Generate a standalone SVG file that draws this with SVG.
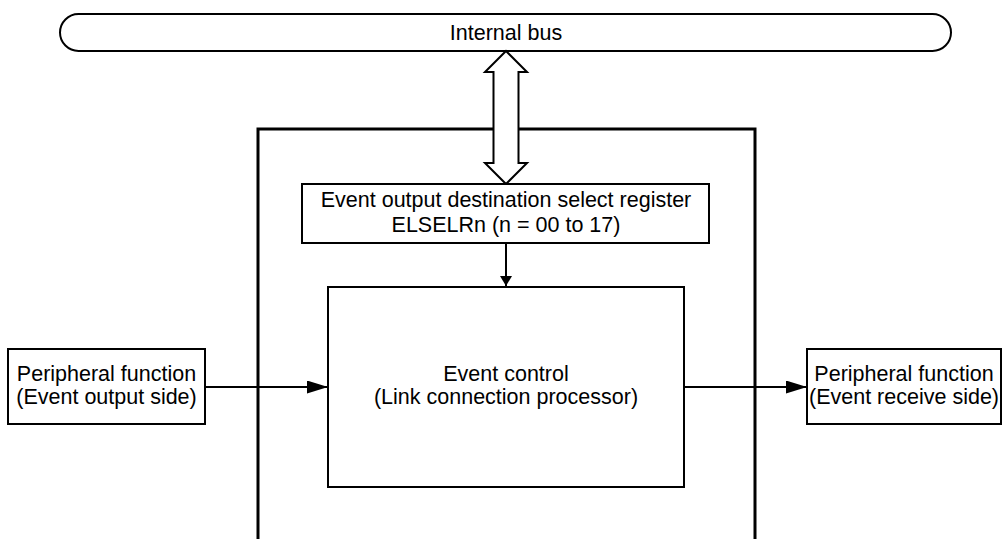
<svg xmlns="http://www.w3.org/2000/svg" width="1004" height="539" viewBox="0 0 1004 539">
<style>
text{font-family:"Liberation Sans",Arial,sans-serif;font-size:21.5px;fill:#000;text-anchor:middle}
.box{fill:#fff;stroke:#000;stroke-width:2}
.line{fill:none;stroke:#000;stroke-width:2}
</style>
<defs>
<marker id="ah" markerWidth="10" markerHeight="12" refX="10" refY="6" orient="auto" markerUnits="userSpaceOnUse" viewBox="0 0 10 12">
<path d="M0,0 L10,6 L0,12 z" fill="#000"/>
</marker>
<marker id="ahl" markerWidth="21" markerHeight="13" refX="21" refY="6.5" orient="auto" markerUnits="userSpaceOnUse" viewBox="0 0 21 13">
<path d="M0,0 L21,6.5 L0,13 z" fill="#000"/>
</marker>
</defs>
<rect width="1004" height="539" fill="#fff"/>
<g id="bus">
<rect x="60" y="14" width="891" height="37" rx="18.5" ry="18.5" class="box"/>
<text x="506" y="40">Internal bus</text>
</g>
<g id="elc">
<path d="M258,539 L258,129 L755,129 L755,539" fill="none" stroke="#000" stroke-width="3"/>
</g>
<g id="connectors">
<path d="M506,51 L527,72 L518.5,72 L518.5,163 L527,163 L506,184 L485,163 L493.5,163 L493.5,72 L485,72 Z" fill="#fff" stroke="#000" stroke-width="2"/>
<line x1="506" y1="243" x2="506" y2="286" class="line" marker-end="url(#ah)"/>
<line x1="205" y1="387" x2="328" y2="387" class="line" marker-end="url(#ahl)"/>
<line x1="684" y1="387" x2="807" y2="387" class="line" marker-end="url(#ahl)"/>
</g>
<g id="register">
<rect x="302" y="184" width="407" height="59" class="box"/>
<text x="506" y="207">Event output destination select register</text>
<text x="506" y="232">ELSELRn (n = 00 to 17)</text>
</g>
<g id="control">
<rect x="328" y="287" width="356" height="200" class="box"/>
<text x="506" y="381">Event control</text>
<text x="506" y="404">(Link connection processor)</text>
</g>
<g id="periph-out">
<rect x="8" y="349" width="197" height="75" class="box"/>
<text x="106.5" y="381">Peripheral function</text>
<text x="106.5" y="404">(Event output side)</text>
</g>
<g id="periph-in">
<rect x="807" y="349" width="194" height="75" class="box"/>
<text x="904" y="381">Peripheral function</text>
<text x="904" y="404">(Event receive side)</text>
</g>
</svg>
